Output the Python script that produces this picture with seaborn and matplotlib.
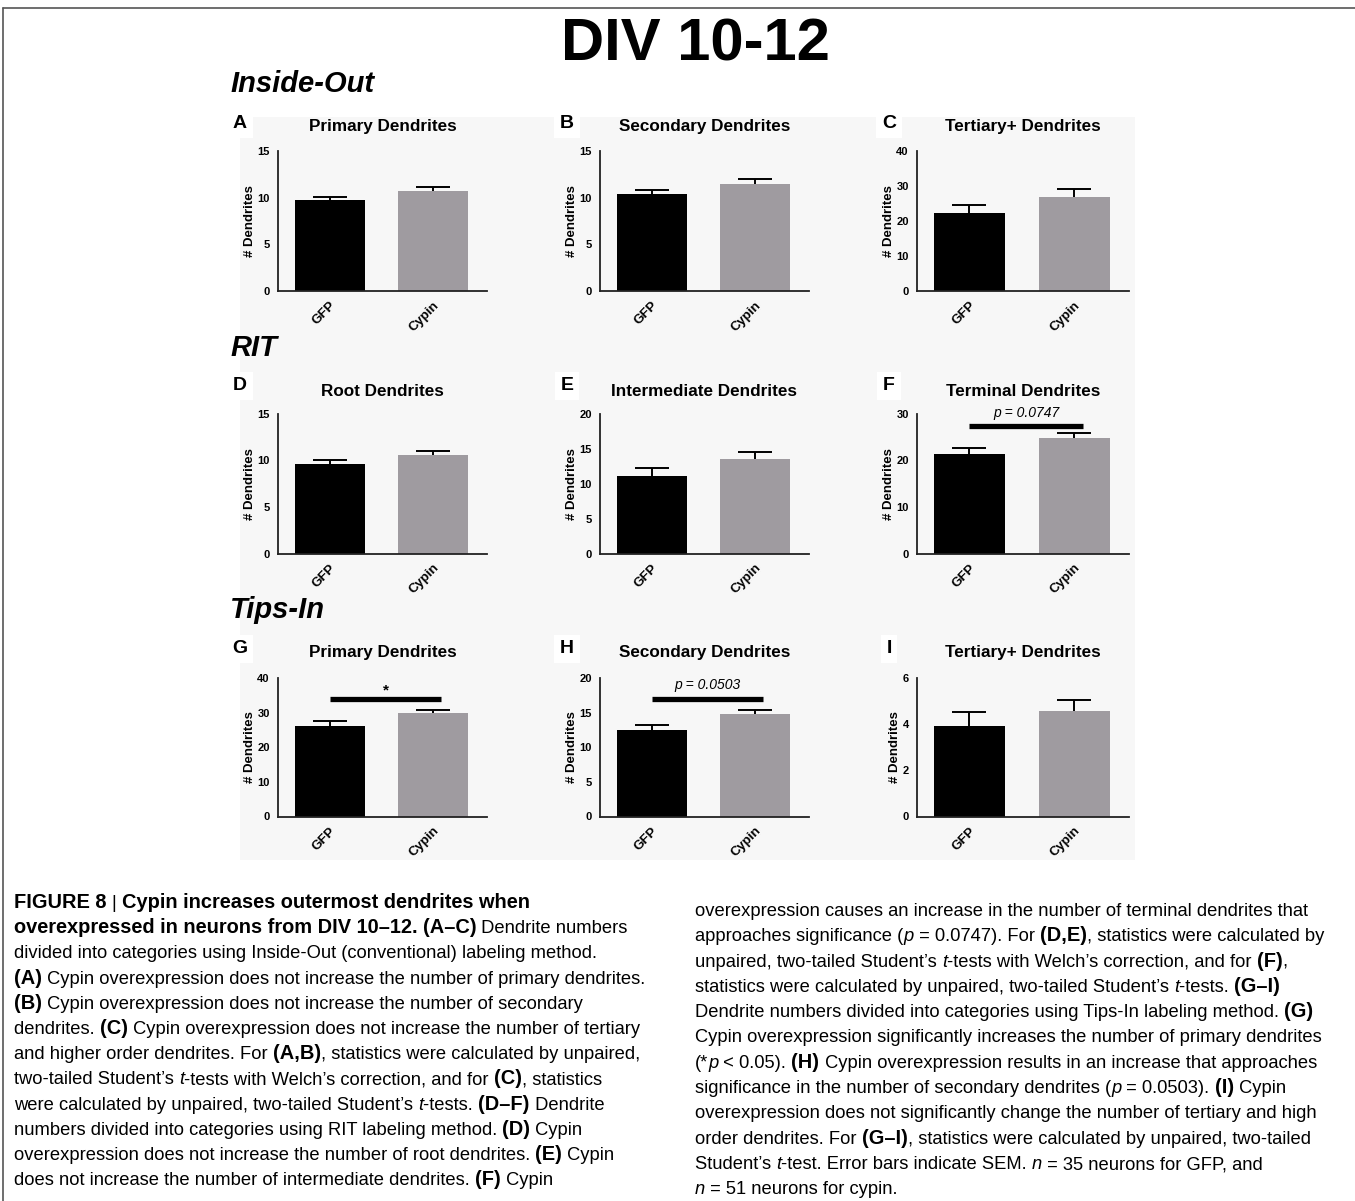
import re
import numpy as np
import matplotlib
matplotlib.use("Agg")
import matplotlib.pyplot as plt
import seaborn as sns
from matplotlib.font_manager import FontProperties
from matplotlib.patches import Rectangle
from matplotlib.lines import Line2D

# ---- data ----
groups = ["GFP", "Cypin"]
panel_ids = ["A", "B", "C", "D", "E", "F", "G", "H", "I"]
panel_titles = ["Primary Dendrites", "Secondary Dendrites", "Tertiary+ Dendrites",
                "Root Dendrites", "Intermediate Dendrites", "Terminal Dendrites",
                "Primary Dendrites", "Secondary Dendrites", "Tertiary+ Dendrites"]
gfp_mean = [9.7, 10.4, 22.3, 9.65, 11.15, 21.4, 26.1, 12.55, 3.93]
gfp_sem = [0.35, 0.4, 2.3, 0.4, 1.15, 1.35, 1.4, 0.7, 0.58]
cypin_mean = [10.7, 11.5, 26.9, 10.6, 13.5, 24.8, 30.0, 14.8, 4.55]
cypin_sem = [0.4, 0.45, 2.2, 0.45, 1.0, 1.2, 0.9, 0.65, 0.5]
y_max = [15, 15, 40, 15, 20, 30, 40, 20, 6]
y_step = [5, 5, 10, 5, 5, 10, 10, 5, 2]
section_names = ["Inside-Out", "RIT", "Tips-In"]

sig_panels = ["F", "G", "H"]
sig_bar_y = [27.4, 34.0, 17.0]
sig_text_y = [30.2, 36.4, 18.95]
sig_labels = ["p = 0.0747", "*", "p = 0.0503"]

bar_colors = ["#000000", "#9f9ba0"]

left_caption = [
    "<b>FIGURE 8 </b>| <b>Cypin increases outermost dendrites when</b>",
    "<b>overexpressed in neurons from DIV 10–12.</b> <b>(A–C)</b> Dendrite numbers",
    "divided into categories using Inside-Out (conventional) labeling method.",
    "<b>(A)</b> Cypin overexpression does not increase the number of primary dendrites.",
    "<b>(B)</b> Cypin overexpression does not increase the number of secondary",
    "dendrites. <b>(C)</b> Cypin overexpression does not increase the number of tertiary",
    "and higher order dendrites. For <b>(A,B)</b>, statistics were calculated by unpaired,",
    "two-tailed Student’s <i>t</i>-tests with Welch’s correction, and for <b>(C)</b>, statistics",
    "were calculated by unpaired, two-tailed Student’s <i>t</i>-tests. <b>(D–F)</b> Dendrite",
    "numbers divided into categories using RIT labeling method. <b>(D)</b> Cypin",
    "overexpression does not increase the number of root dendrites. <b>(E)</b> Cypin",
    "does not increase the number of intermediate dendrites. <b>(F)</b> Cypin",
]
right_caption = [
    "overexpression causes an increase in the number of terminal dendrites that",
    "approaches significance (<i>p</i> = 0.0747). For <b>(D,E)</b>, statistics were calculated by",
    "unpaired, two-tailed Student’s <i>t</i>-tests with Welch’s correction, and for <b>(F)</b>,",
    "statistics were calculated by unpaired, two-tailed Student’s <i>t</i>-tests. <b>(G–I)</b>",
    "Dendrite numbers divided into categories using Tips-In labeling method. <b>(G)</b>",
    "Cypin overexpression significantly increases the number of primary dendrites",
    "(*<i>p</i> < 0.05). <b>(H)</b> Cypin overexpression results in an increase that approaches",
    "significance in the number of secondary dendrites (<i>p</i> = 0.0503). <b>(I)</b> Cypin",
    "overexpression does not significantly change the number of tertiary and high",
    "order dendrites. For <b>(G–I)</b>, statistics were calculated by unpaired, two-tailed",
    "Student’s <i>t</i>-test. Error bars indicate SEM. <i>n</i> = 35 neurons for GFP, and",
    "<i>n</i> = 51 neurons for cypin.",
]

# ---- layout (pixels) ----
W, H = 1355, 1201
col_left = [278, 600, 917]
col_right = [487, 809, 1129]
row_top = [151, 414, 678]
row_bottom = [291, 553.5, 816.5]
title_y = [127, 391, 653]
letter_x = [240, 567, 889]
letter_y = [124, 386, 649]
section_y = [84, 348, 610]

sns.set_style("white")
plt.rcParams['font.family'] = ['Liberation Sans', 'DejaVu Sans']
plt.rcParams['text.color'] = 'black'
plt.rcParams['axes.labelcolor'] = 'black'
plt.rcParams['xtick.color'] = 'black'
plt.rcParams['ytick.color'] = 'black'


def fx(x):
    return x / W


def fy(y):
    return 1 - y / H


fig = plt.figure(figsize=(W / 100, H / 100), dpi=100)

# light grey backdrop of the original figure panel
fig.patches.append(Rectangle((fx(240), fy(860)), (1135 - 240) / W, (860 - 117) / H,
                             transform=fig.transFigure, facecolor="#f7f7f7",
                             edgecolor="none", zorder=-5))
# page frame
fig.add_artist(Line2D([fx(3), fx(3)], [0, fy(8)], color="#555555", lw=1.2))
fig.add_artist(Line2D([fx(3), 1], [fy(8), fy(8)], color="#555555", lw=1.2))

fig.text(fx(695), fy(45), "DIV 10-12", fontsize=43,
         fontweight="bold", ha="center", va="center")
for name, y in zip(section_names, section_y):
    fig.text(fx(230), fy(y), name, fontsize=21, fontweight="bold",
             fontstyle="italic", ha="left", va="center")

for i, pid in enumerate(panel_ids):
    r, c = divmod(i, 3)
    left, right = col_left[c], col_right[c]
    top, bottom = row_top[r], row_bottom[r]
    ax = fig.add_axes([fx(left), fy(bottom), (right - left) / W, (bottom - top) / H])
    ax.set_facecolor("none")
    means = [gfp_mean[i], cypin_mean[i]]
    sns.barplot(x=groups, y=means, hue=groups, palette=bar_colors, saturation=1,
                width=0.68, errorbar=None, legend=False, linewidth=0, ax=ax)
    eb = ax.errorbar([0, 1], means, yerr=[[0, 0], [gfp_sem[i], cypin_sem[i]]],
                     fmt="none", ecolor="black", elinewidth=1.4, capsize=12,
                     capthick=1.4)
    eb[1][0].set_visible(False)

    ax.set_xlim(-0.5, 1.52)
    ax.set_ylim(0, y_max[i])
    ax.set_yticks(np.arange(0, y_max[i] + 1, y_step[i]))
    ax.set_xticks([0, 1])
    ax.set_xticklabels(groups, rotation=45, ha="right", va="top",
                       rotation_mode="anchor", fontsize=9.5, fontweight="bold")
    for lab in ax.get_yticklabels():
        lab.set_fontweight("bold")
        lab.set_fontsize(8)
    ax.set_xlabel("")
    ax.set_ylabel("# Dendrites", fontsize=9.5, fontweight="bold", labelpad=1)
    sns.despine(ax=ax)
    for s in ["left", "bottom"]:
        ax.spines[s].set_linewidth(1.3)
        ax.spines[s].set_color("#222222")
    ax.tick_params(axis="both", direction="out", length=4, width=1.2,
                   color="#222222", pad=2)

    if pid in sig_panels:
        k = sig_panels.index(pid)
        ax.plot([0, 1.08], [sig_bar_y[k], sig_bar_y[k]], color="black", lw=3.8,
                solid_capstyle="butt", clip_on=False)
        if sig_labels[k] == "*":
            ax.text(0.54, sig_text_y[k], "*", ha="center", va="center",
                    fontsize=11, fontweight="bold")
        else:
            ax.text(0.54, sig_text_y[k], sig_labels[k], ha="center", va="center",
                    fontsize=10, fontstyle="italic")

    fig.text(fx((left + right) / 2), fy(title_y[r]), panel_titles[i],
             fontsize=12.3, fontweight="bold", ha="center", va="center")
    fig.text(fx(letter_x[c]), fy(letter_y[r]), pid, fontsize=14,
             fontweight="bold", ha="center", va="center",
             bbox=dict(facecolor="white", edgecolor="none", pad=4))

# ---- caption with mixed bold / italic runs ----
renderer = fig.canvas.get_renderer()
cap_sizes = {"b": 14.4, "": 13.2, "i": 13.2}


def run_props(tag):
    weight = "bold" if tag == "b" else "normal"
    style = "italic" if tag == "i" else "normal"
    return FontProperties(family=["Liberation Sans", "DejaVu Sans"],
                          size=cap_sizes[tag], weight=weight, style=style)


def advance(text, prop):
    w1, _, _ = renderer.get_text_width_height_descent("|" + text + "|", prop, False)
    w0, _, _ = renderer.get_text_width_height_descent("||", prop, False)
    return w1 - w0


def draw_caption(lines, x0, y0, step):
    for n, line in enumerate(lines):
        x = x0
        y = y0 + n * step
        for part in re.split(r"(<b>.*?</b>|<i>.*?</i>)", line):
            if not part:
                continue
            tag = ""
            m = re.match(r"<(b|i)>(.*?)</\1>", part)
            if m:
                tag, part = m.group(1), m.group(2)
            prop = run_props(tag)
            fig.text(fx(x), fy(y), part, fontproperties=prop, ha="left",
                     va="baseline")
            x += advance(part, prop)


draw_caption(left_caption, 14, 908, 25.2)
draw_caption(right_caption, 695, 916, 25.3)

fig.savefig("out.png", dpi=100)
